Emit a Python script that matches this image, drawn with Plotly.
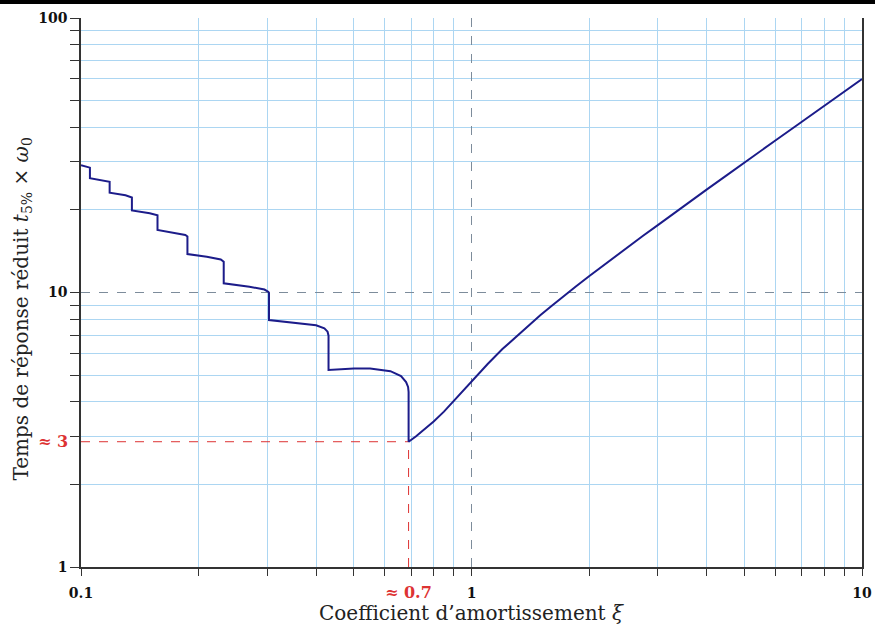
import numpy as np
import plotly.graph_objects as go

# ---- data ----
xi = [0.100, 0.1054, 0.1054, 0.1150, 0.1184, 0.1184, 0.1300, 0.1350, 0.1350, 0.1500,
      0.1570, 0.1570, 0.1750, 0.1850, 0.1873, 0.1873, 0.2100, 0.2280, 0.2320, 0.2320,
      0.2700, 0.2950, 0.3020, 0.3030, 0.3030, 0.3500, 0.4000, 0.4200, 0.4280, 0.4304,
      0.4304, 0.5000, 0.5500, 0.6200, 0.6600, 0.6800, 0.6880, 0.6901, 0.6901, 0.7200,
      0.7500, 0.8000, 0.8500, 0.9000, 0.9500, 1.000, 1.050, 1.100, 1.200, 1.330,
      1.400, 1.500, 1.600, 1.735, 1.850, 2.000, 2.250, 2.500, 2.750, 3.000,
      3.500, 4.000, 4.500, 5.000, 6.000, 7.000, 8.000, 10.00]
t5_w0 = [29.1, 28.5, 26.1, 25.6, 25.3, 23.1, 22.6, 22.2, 19.9, 19.45,
         19.1, 16.9, 16.5, 16.2, 16.0, 13.8, 13.5, 13.2, 12.95, 10.8,
         10.5, 10.25, 10.05, 9.95, 7.94, 7.78, 7.6, 7.4, 7.2, 6.96,
         5.22, 5.29, 5.29, 5.17, 4.96, 4.72, 4.53, 4.34, 2.86, 2.99,
         3.13, 3.39, 3.68, 4.02, 4.38, 4.74, 5.12, 5.49, 6.22, 7.1,
         7.59, 8.26, 8.91, 9.8, 10.51, 11.46, 13.02, 14.57, 16.1, 17.6,
         20.7, 23.7, 26.7, 29.8, 35.8, 41.8, 47.8, 59.9]

xi_opt = 0.69      # optimum damping
t_min = 2.86       # minimum reduced response time

x_major = [0.1, 1, 10]
x_major_text = ["<b>0.1</b>", "<b>1</b>", "<b>10</b>"]
x_minor = [0.2, 0.3, 0.4, 0.5, 0.6, 0.7, 0.8, 0.9, 2, 3, 4, 5, 6, 7, 8, 9]
y_major = [1, 10, 100]
y_major_text = ["<b>1</b>", "<b>10</b>", "<b>100</b>"]
y_minor = [2, 3, 4, 5, 6, 7, 8, 9, 20, 30, 40, 50, 60, 70, 80, 90]

lbl_opt_x = "≈ 0.7"
lbl_opt_y = "≈ 3"
x_title = "Coefficient d’amortissement <i>ξ</i>"
y_title = "Temps de réponse réduit <i>t</i><sub>5%</sub> × <i>ω</i><sub>0</sub>"

# ---- styles ----
CURVE = "#1c1c8a"
RED = "#dd3333"
GRID = "#acd6f2"
MAJ = "#7d8c9b"
AX = "#333333"
NUMFONT = dict(family="DejaVu Serif", size=14, color="#111111")

fig = go.Figure()

fig.add_trace(go.Scatter(x=[xi[0], xi_opt], y=[t_min, t_min], mode="lines",
                         line=dict(color=RED, width=1, dash="dash"),
                         hoverinfo="skip", showlegend=False))
fig.add_trace(go.Scatter(x=[xi_opt, xi_opt], y=[y_major[0], t_min], mode="lines",
                         line=dict(color=RED, width=1, dash="dash"),
                         hoverinfo="skip", showlegend=False))
fig.add_trace(go.Scatter(x=xi, y=t5_w0, mode="lines",
                         line=dict(color=CURVE, width=2),
                         showlegend=False))

fig.update_xaxes(type="log", range=[-1, 1], automargin=False,
                 tickmode="array", tickvals=x_major, ticktext=x_major_text,
                 tickfont=NUMFONT, ticks="outside", ticklen=7, tickcolor=AX,
                 ticklabelstandoff=5,
                 showgrid=True, gridcolor=MAJ, griddash="dash", gridwidth=1,
                 showline=True, linecolor=AX, linewidth=1.5, mirror=False,
                 zeroline=False,
                 minor=dict(tickmode="array", tickvals=x_minor, ticks="outside",
                            ticklen=7, tickcolor=AX, showgrid=True,
                            gridcolor=GRID, gridwidth=1, griddash="solid"))
fig.update_yaxes(type="log", range=[0, 2], automargin=False,
                 tickmode="array", tickvals=y_major, ticktext=y_major_text,
                 tickfont=NUMFONT, ticks="outside", ticklen=9, tickcolor=AX,
                 showgrid=True, gridcolor=MAJ, griddash="dash", gridwidth=1,
                 showline=True, linecolor=AX, linewidth=1.5, mirror=True,
                 zeroline=False,
                 minor=dict(tickmode="array", tickvals=y_minor, ticks="outside",
                            ticklen=9, tickcolor=AX, showgrid=True,
                            gridcolor=GRID, gridwidth=1, griddash="solid"))

fig.add_annotation(x=np.log10(xi_opt), y=0, xref="x", yref="paper",
                   text="<b>" + lbl_opt_x + "</b>", showarrow=False,
                   xanchor="center", yanchor="top", yshift=-14,
                   font=dict(family="DejaVu Serif", size=16, color=RED))
fig.add_annotation(x=0, y=np.log10(t_min), xref="paper", yref="y",
                   text="<b>" + lbl_opt_y + "</b>", showarrow=False,
                   xanchor="right", yanchor="middle", xshift=-11,
                   font=dict(family="DejaVu Serif", size=16, color=RED))
fig.add_annotation(x=0.5, y=-0.058, xref="paper", yref="paper",
                   text=x_title, showarrow=False, xanchor="center", yanchor="top",
                   font=dict(family="DejaVu Serif", size=20, color="#222222"))
fig.add_annotation(x=-0.076, y=0.47, xref="paper", yref="paper",
                   text=y_title, showarrow=False, textangle=-90,
                   xanchor="center", yanchor="middle",
                   font=dict(family="DejaVu Serif", size=20, color="#222222"))

# dark band along the very top of the picture
fig.add_shape(type="rect", xref="paper", yref="paper",
              x0=-0.2, x1=1.2, y0=1.0255, y1=1.045,
              fillcolor="black", line=dict(width=0), layer="above")

fig.update_layout(width=875, height=634,
                  margin=dict(l=81, r=13, t=18, b=67),
                  paper_bgcolor="white", plot_bgcolor="white")

fig.write_html("out.html", config={"displayModeBar": False},
               post_script="document.body.style.margin='0';document.body.style.overflow='hidden';")
